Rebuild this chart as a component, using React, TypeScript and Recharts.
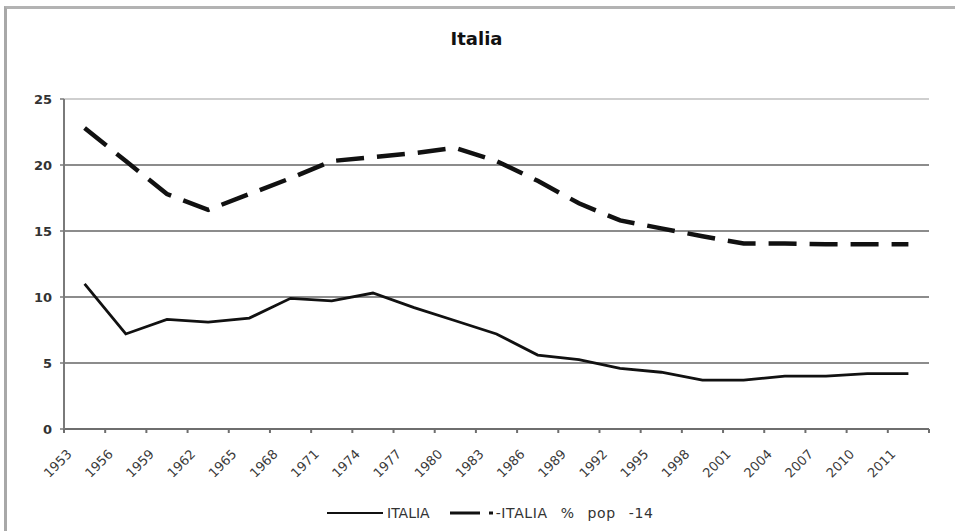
import { CartesianGrid, Legend, Line, LineChart, ReferenceLine, XAxis, YAxis } from 'recharts'

const years = [
  '1953', '1956', '1959', '1962', '1965', '1968', '1971', '1974', '1977', '1980', '1983',
  '1986', '1989', '1992', '1995', '1998', '2001', '2004', '2007', '2010', '2011',
]
const italia = [11.0, 7.2, 8.3, 8.1, 8.4, 9.9, 9.7, 10.3, 9.2, 8.2, 7.2, 5.6, 5.25, 4.6, 4.3, 3.7, 3.7, 4.0, 4.0, 4.2, 4.2]
const italiaPop14 = [22.8, 20.3, 17.8, 16.6, 17.8, 19.0, 20.3, 20.6, 20.9, 21.3, 20.3, 18.8, 17.1, 15.8, 15.2, 14.6, 14.05, 14.05, 14.0, 14.0, 14.0]
const yTicks = [0, 5, 10, 15, 20, 25]

const data = years.map((year, i) => ({ year, italia: italia[i], pop14: italiaPop14[i] }))

const W = 955
const H = 531
const PLOT_LEFT = 64
const PLOT_RIGHT = 26
const BW = (W - PLOT_LEFT - PLOT_RIGHT) / years.length
const FONT = '"DejaVu Sans", Verdana, sans-serif'

function YearTick({ x, y, payload, index }: { x?: number; y?: number; payload?: { value: string }; index?: number }) {
  const cx = x ?? 0
  const cy = y ?? 0
  const left = cx - BW / 2
  const tx = cx - 12
  const ty = cy + 22
  return (
    <g>
      <line x1={left} x2={left} y1={cy - 4} y2={cy} stroke="#6e6e6e" strokeWidth={2} />
      {index === years.length - 1 && <line x1={cx + BW / 2} x2={cx + BW / 2} y1={cy - 4} y2={cy} stroke="#6e6e6e" strokeWidth={2} />}
      <text x={tx} y={ty} transform={`rotate(-45 ${tx} ${ty})`} textAnchor="end" fontSize={13} fontFamily={FONT} fill="#3a3a3a">
        {payload?.value}
      </text>
    </g>
  )
}

function ChartLegend() {
  return (
    <div style={{ height: 42, position: 'relative', fontFamily: FONT, fontSize: 14, color: '#333' }}>
      <div style={{ position: 'absolute', left: 327, top: 16, display: 'flex', alignItems: 'center', whiteSpace: 'nowrap' }}>
        <svg width={56} height={10}>
          <line x1={0} x2={56} y1={5} y2={5} stroke="#111" strokeWidth={2} />
        </svg>
        <span style={{ marginLeft: 4 }}>ITALIA</span>
        <svg width={46} height={10} style={{ marginLeft: 20 }}>
          <line x1={0} x2={46} y1={5} y2={5} stroke="#111" strokeWidth={3} strokeDasharray="30 9 4 20" />
        </svg>
        <span style={{ wordSpacing: 8, letterSpacing: 0.6 }}>-ITALIA % pop -14</span>
      </div>
    </div>
  )
}

export default function App() {
  return (
    <div style={{ position: 'absolute', left: 0, top: 0, width: W, height: H, background: '#fff' }}>
      <LineChart width={W} height={H} data={data} margin={{ top: 99, right: PLOT_RIGHT, left: 0, bottom: 0 }}>
        <CartesianGrid horizontal vertical={false} stroke="#8c8c8c" strokeWidth={2} />
        <ReferenceLine y={25} stroke="#cfcfcf" strokeWidth={2} />
        <XAxis
          dataKey="year"
          scale="band"
          interval={0}
          height={60}
          tickSize={4}
          tickMargin={0}
          tickLine={false}
          axisLine={{ stroke: '#6e6e6e', strokeWidth: 2 }}
          tick={<YearTick />}
        />
        <YAxis
          width={PLOT_LEFT}
          domain={[0, 25]}
          ticks={yTicks}
          tickSize={4}
          tickMargin={8}
          axisLine={{ stroke: '#7a7a7a', strokeWidth: 2 }}
          tickLine={{ stroke: '#7a7a7a', strokeWidth: 1.5 }}
          tick={{ fontSize: 13, fontWeight: 'bold', fontFamily: FONT, fill: '#333' }}
        />
        <YAxis
          yAxisId="right"
          orientation="right"
          width={0}
          domain={[0, 25]}
          tick={false}
          tickLine={false}
          axisLine={{ stroke: '#c0c0c0', strokeWidth: 3 }}
        />
        <Legend verticalAlign="bottom" wrapperStyle={{ left: 0, width: W }} content={<ChartLegend />} />
        <Line
          type="linear"
          dataKey="italia"
          name="ITALIA"
          stroke="#111"
          strokeWidth={2.8}
          dot={false}
          isAnimationActive={false}
        />
        <Line
          type="linear"
          dataKey="pop14"
          name="ITALIA % pop -14"
          stroke="#111"
          strokeWidth={4.5}
          strokeDasharray="28 13"
          dot={false}
          isAnimationActive={false}
        />
      </LineChart>
      <div
        style={{
          position: 'absolute',
          left: 0,
          top: 28,
          width: W - 2,
          textAlign: 'center',
          fontFamily: FONT,
          fontWeight: 'bold',
          fontSize: 18,
          color: '#111',
        }}
      >
        Italia
      </div>
      <div
        style={{
          position: 'absolute',
          left: 4,
          top: 6,
          width: W - 4,
          height: H - 6,
          borderTop: '3px solid #b3b3b3',
          borderLeft: '3px solid #a8a8a8',
          boxSizing: 'border-box',
          pointerEvents: 'none',
        }}
      />
    </div>
  )
}
